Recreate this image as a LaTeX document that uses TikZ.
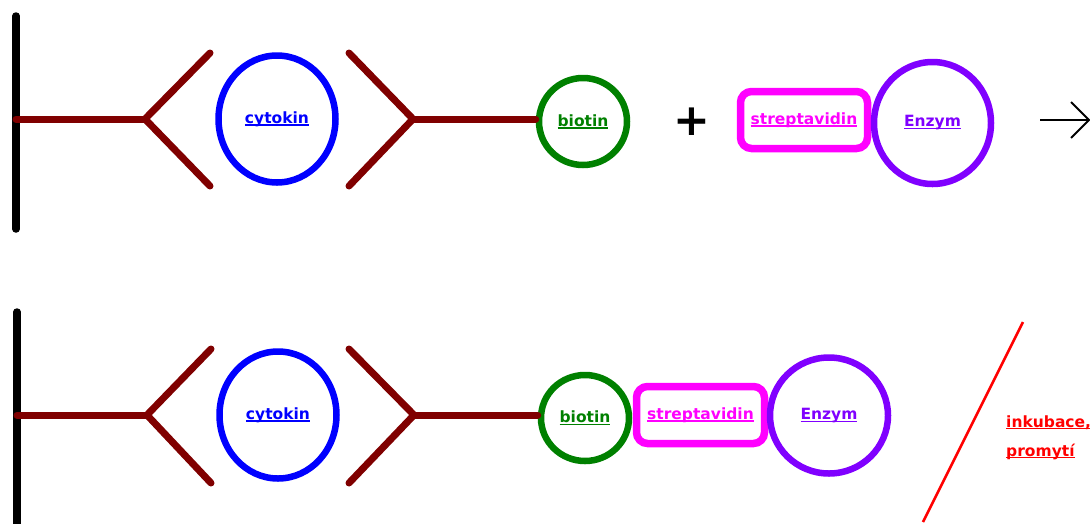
\documentclass[tikz,border=0pt]{standalone}
\usepackage{fontspec}
\setmainfont{DejaVu Sans}
\usetikzlibrary{shapes.geometric}
\definecolor{abmaroon}{HTML}{800000}
\definecolor{biogreen}{HTML}{008000}
\definecolor{strepmag}{HTML}{FF00FF}
\definecolor{enzpurple}{HTML}{8000FF}
\definecolor{cytblue}{HTML}{0000FF}
\definecolor{notered}{HTML}{FF0000}
% underlined label text
\newcommand\ulabel[1]{\setbox0\hbox{#1}\rlap{\rule[-2.4pt]{\wd0}{1.3pt}}\box0}
\begin{document}
\begin{tikzpicture}[x=1pt,y=-1pt,
  wall/.style={line width=7.5pt,line cap=round,black},
  ab/.style={line width=7pt,line cap=round,abmaroon},
  lbl/.style={font=\fontsize{15.5}{18}\selectfont\bfseries},
  ring/.style={ellipse,draw,line width=6.5pt,inner sep=0pt,lbl},
  cytring/.style={ring,draw=cytblue,text=cytblue,minimum width=117pt,minimum height=127pt},
  bioring/.style={ring,draw=biogreen,text=biogreen,minimum width=88pt,minimum height=87pt},
  enzring/.style={ring,draw=enzpurple,text=enzpurple},
  strepbox/.style={rectangle,rounded corners=11pt,draw=strepmag,text=strepmag,line width=7.5pt,
    minimum width=127pt,minimum height=57pt,inner sep=0pt,lbl},
  thin/.style={line width=2pt}]
\useasboundingbox (0,0) rectangle (1090,523);

% ---- upper row: capture antibody, cytokine, biotinylated detection antibody
\draw[wall] (16,16) -- (16,229);
\coordinate (s1) at (16,119);
\coordinate (v1) at (145,119);
\draw[ab] (s1) -- (v1);
\draw[ab] (210,53) -- (v1) -- (210,186);
\node[cytring] (cyt1) at (277,119) {\ulabel{cytokin}};
\coordinate (v2) at (413,119);
\draw[ab] (349,53) -- (v2) -- (349,186);
\node[bioring] (bio1) at (583,121.5) {\ulabel{biotin}};
\draw[ab] (v2) -- (v2 -| bio1.west);

\node[font=\fontsize{44}{44}\selectfont\bfseries] (plus) at (692,122) {+};

\node[strepbox] (str1) at (804,120) {\ulabel{streptavidin}};
\node[enzring,minimum width=117pt,minimum height=122pt] (enz1) at (932.5,123) {\ulabel{Enzym}};

\coordinate (a0) at (1040,120);
\coordinate (a1) at (1089,120);
\draw[thin] (a0) -- (a1);
\draw[thin,line join=miter] (1071,102) -- (a1) -- (1071,138);

% ---- lower row: complete sandwich with enzyme conjugate
\draw[wall] (17,312) -- (17,530);
\coordinate (s2) at (17,415);
\coordinate (v3) at (147,415);
\draw[ab] (s2) -- (v3);
\draw[ab] (211,349) -- (v3) -- (211,483);
\node[cytring] (cyt2) at (278,415) {\ulabel{cytokin}};
\coordinate (v4) at (414,415);
\draw[ab] (349,349) -- (v4) -- (349,483);
\node[bioring,minimum height=86pt] (bio2) at (585,418) {\ulabel{biotin}};
\draw[ab] (v4) -- (v4 -| bio2.west);
\node[strepbox,minimum width=128pt] (str2) at (700.5,415) {\ulabel{streptavidin}};
\node[enzring,minimum width=118pt,minimum height=116pt] (enz2) at (829,415.5) {\ulabel{Enzym}};

% ---- incubation / washing note
\coordinate (r0) at (1023,322);
\coordinate (r1) at (923,522);
\draw[notered,line width=2.5pt] (r0) -- (r1);
\node[lbl,text=notered,anchor=base west,inner sep=0pt] (inc1) at (1006,427) {\ulabel{inkubace,}};
\node[lbl,text=notered,anchor=base west,inner sep=0pt] (inc2) at (1006,456) {\ulabel{promytí}};
\end{tikzpicture}
\end{document}
